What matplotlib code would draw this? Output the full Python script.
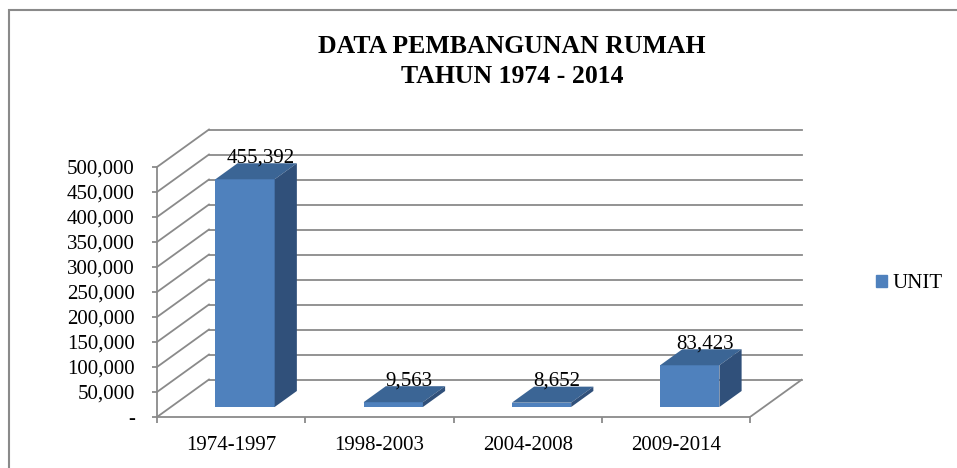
import matplotlib
matplotlib.use("Agg")
import matplotlib.pyplot as plt
from matplotlib.patches import Polygon, Rectangle, Patch

# data
periods = ["1974-1997", "1998-2003", "2004-2008", "2009-2014"]
units = [455392, 9563, 8652, 83423]
value_labels = ["455,392", "9,563", "8,652", "83,423"]
y_ticks = [0, 50000, 100000, 150000, 200000, 250000, 300000, 350000, 400000, 450000, 500000]
y_tick_labels = ["-", "50,000", "100,000", "150,000", "200,000", "250,000",
                 "300,000", "350,000", "400,000", "450,000", "500,000"]
series_name = "UNIT"
title_lines = ["DATA PEMBANGUNAN RUMAH", "TAHUN 1974 - 2014"]

plt.rcParams["font.family"] = ["Liberation Serif", "DejaVu Serif"]

W, H = 957, 468
fig = plt.figure(figsize=(W / 100, H / 100), dpi=100)

# fake 3d: depth vector in data units (category, value)
px_per_cat = 148.25
px_per_val = 25 / 50000
dx = 52 / px_per_cat
dy = 37.5 / px_per_val
f0, fd = 0.267, 0.427      # bar front plane / bar depth as fraction of floor depth
bar_w = 0.4
grid_c = "#8a8a8a"
front_c, top_c, side_c = "#4F81BD", "#3B6595", "#30507A"

n = len(periods)
vmax = y_ticks[-1]
left_px, bottom_px = 157, 417
ax_w = (n + dx) * px_per_cat
ax_h = (vmax + dy) * px_per_val
ax = fig.add_axes([left_px / W, 1 - bottom_px / H, ax_w / W, ax_h / H])
ax.set_xlim(0, n + dx)
ax.set_ylim(0, vmax + dy)
ax.patch.set_alpha(0)

# walls and floor
for v in y_ticks:
    ax.plot([dx, n + dx], [v + dy, v + dy], color=grid_c, lw=1.3, zorder=1, clip_on=False)
    ax.plot([0, dx], [v, v + dy], color=grid_c, lw=1.3, zorder=1, clip_on=False)
ax.plot([n, n + dx], [0, dy], color=grid_c, lw=1.3, zorder=1)

for s in ["top", "right"]:
    ax.spines[s].set_visible(False)
ax.spines["left"].set_bounds(0, vmax)
ax.spines["bottom"].set_bounds(0, n)
for s in ["left", "bottom"]:
    ax.spines[s].set_color(grid_c)
    ax.spines[s].set_linewidth(1.3)

ax.set_yticks(y_ticks)
ax.set_yticklabels(y_tick_labels, fontsize=15)
ax.tick_params(axis="y", direction="out", length=3.6, width=1.3, color=grid_c, pad=12.5)
ax.set_xticks(range(n + 1))
ax.set_xticklabels([])
ax.tick_params(axis="x", which="major", direction="out", length=4.3, width=1.3, color=grid_c)
ax.set_xticks([i + 0.5 for i in range(n)], minor=True)
ax.set_xticklabels(periods, minor=True, fontsize=15)
ax.tick_params(axis="x", which="minor", length=0, pad=13.5)

# bars
centers = [i + 0.5 + f0 * dx for i in range(n)]
base = f0 * dy
ax.bar(centers, units, width=bar_w, bottom=base, color=front_c, zorder=3, label=series_name)
for c, v, lab in zip(centers, units, value_labels):
    x0, x1 = c - bar_w / 2, c + bar_w / 2
    top = base + v
    ddx, ddy = fd * dx, fd * dy
    ax.add_patch(Polygon([(x0, top), (x1, top), (x1 + ddx, top + ddy), (x0 + ddx, top + ddy)],
                         closed=True, fc=top_c, ec="none", zorder=3))
    ax.add_patch(Polygon([(x1, base), (x1, top), (x1 + ddx, top + ddy), (x1 + ddx, base + ddy)],
                         closed=True, fc=side_c, ec="none", zorder=3))
    ax.text(c + 0.7 * ddx, top + ddy + 2000, lab, ha="center", va="baseline",
            fontsize=15, zorder=4)

# legend
fig.legend(handles=[Patch(color=front_c, label=series_name)], loc="center left",
           bbox_to_anchor=(876 / W, 1 - 284 / H), frameon=False, fontsize=15,
           handlelength=0.53, handleheight=0.53, handletextpad=0.25,
           borderpad=0, borderaxespad=0)

# title
fig.text(512 / W, 1 - 53 / H, title_lines[0], ha="center", va="baseline",
         fontsize=18.5, fontweight="bold")
fig.text(512 / W, 1 - 83 / H, title_lines[1], ha="center", va="baseline",
         fontsize=18.5, fontweight="bold")

# chart frame (cut off at right and bottom in the reference)
fig.add_artist(Rectangle((9 / W, -0.1), 1.2, 1 - 10 / H + 0.1, transform=fig.transFigure,
                         fill=False, ec=grid_c, lw=1.5, clip_on=False))

fig.savefig("out.png", dpi=100)
